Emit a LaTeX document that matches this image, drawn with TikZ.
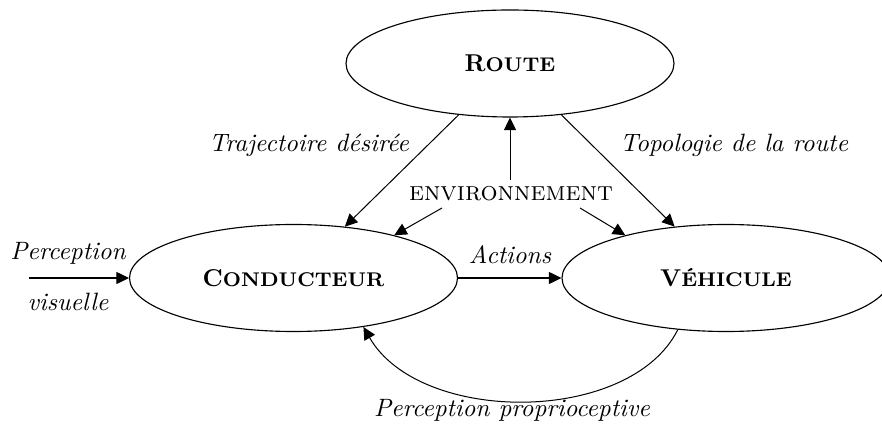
\documentclass[tikz,border=0pt]{standalone}
\usetikzlibrary{shapes.geometric,arrows.meta}
\newcommand{\bsc}[2]{{\fontsize{9.7}{11}\selectfont\bfseries #1{\fontsize{7.9}{9}\selectfont #2}}}
\tikzset{
  ell/.style={ellipse,draw,line width=0.45pt,minimum width=328*0.014cm,minimum height=107*0.014cm,inner sep=0pt},
  arr/.style={-{Triangle[length=5pt,width=4.8pt]},line width=0.4pt},
  lbl/.style={font=\itshape,inner sep=0pt},
}
\begin{document}
\begin{tikzpicture}[x=0.014cm,y=-0.014cm]
\useasboundingbox (0,0) rectangle (882,427);
\clip (0,0) rectangle (882,427);
\node[ell] (route) at (510,63.5) {\bsc{R}{OUTE}};
\node[ell] (cond) at (293.5,278) {\bsc{C}{ONDUCTEUR}};
\node[ell] (veh) at (726,278) {\bsc{V}{ÉHICULE}};
\node[inner sep=0pt] (env) at (511,194) {\fontsize{10.7}{12}\selectfont\textsc{environnement}};
\node[lbl] (traj) at (309,145) {Trajectoire désirée};
\node[lbl] (topo) at (734,145) {Topologie de la route};
\node[lbl] (act) at (510,255) {Actions};
\node[lbl] (pv1) at (68,253) {Perception};
\node[lbl] (pv2) at (68,302) {visuelle};
\node[lbl] (pp) at (512,410) {Perception proprioceptive};
\coordinate (pvs) at (29,278);
\coordinate (envup) at (510,180);
\coordinate (envl) at (442,208);
\coordinate (envr) at (580,208);
\draw[arr] (route.-135) -- (cond.45);
\draw[arr] (route.-45) -- (veh.135);
\draw[arr] (envup) -- (route.south);
\draw[arr] (envl) -- (cond.23);
\draw[arr] (envr) -- (veh.157);
\draw[arr] (cond.east) -- (veh.west);
\draw[arr] (pvs) -- (cond.west);
\draw[arr] (veh.-133) .. controls (630,425) and (420,425) .. (cond.-35);
\end{tikzpicture}
\end{document}
